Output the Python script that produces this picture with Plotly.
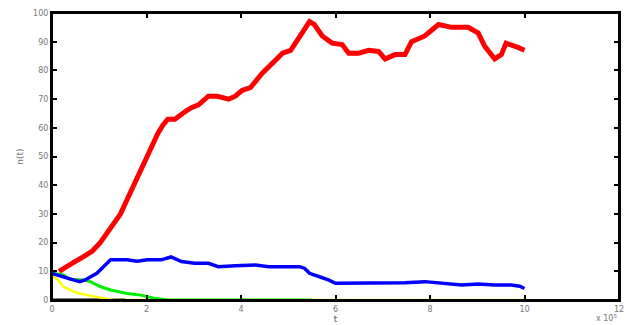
import plotly.graph_objects as go

# Data (t in units of 1e5)
red_t = [0.15, 0.24, 0.45, 0.66, 0.85, 1.02, 1.15, 1.31, 1.45, 1.59, 1.70, 1.81, 1.92, 2.02, 2.12, 2.24, 2.35, 2.45, 2.60, 2.74, 2.85, 2.95, 3.10, 3.31, 3.50, 3.74, 3.88, 4.02, 4.20, 4.45, 4.65, 4.88, 5.05, 5.24, 5.35, 5.45, 5.55, 5.72, 5.93, 6.14, 6.28, 6.49, 6.70, 6.91, 7.05, 7.26, 7.47, 7.61, 7.89, 8.05, 8.18, 8.46, 8.81, 9.02, 9.16, 9.37, 9.51, 9.61, 9.72, 9.86, 10.0]
red_v = [10, 11, 13, 15, 17, 20, 23, 27, 30, 35, 39, 43, 47, 50, 54, 58, 61, 63, 63, 65, 66, 67, 68, 71, 71, 70, 71, 73, 74, 79, 82, 86, 87, 92, 95, 97, 96, 92, 89.5, 89, 86, 86, 87, 86.6, 84, 85.5, 85.5, 90, 92, 94, 96, 95, 95, 93, 88.4, 84, 85.5, 89.5, 89, 88, 87]

blue_t = [0.0, 0.15, 0.31, 0.45, 0.59, 0.70, 0.81, 0.95, 1.09, 1.24, 1.40, 1.59, 1.80, 2.02, 2.31, 2.52, 2.74, 3.02, 3.31, 3.52, 3.88, 4.31, 4.59, 5.02, 5.24, 5.35, 5.45, 5.66, 5.85, 6.0, 6.21, 6.91, 7.47, 7.89, 8.32, 8.67, 9.02, 9.37, 9.72, 9.90, 10.0]
blue_v = [9.3, 8.5, 7.5, 7.0, 6.4, 7.0, 8.0, 9.3, 11.6, 14, 14, 14, 13.5, 14, 14, 15, 13.4, 12.8, 12.8, 11.6, 11.9, 12.2, 11.6, 11.6, 11.6, 11.0, 9.3, 8.1, 7.0, 5.8, 5.8, 5.8, 6.0, 6.4, 5.8, 5.2, 5.6, 5.2, 5.2, 4.8, 4.0]

green_t = [0.0, 0.24, 0.38, 0.66, 0.81, 1.02, 1.24, 1.59, 1.88, 2.16, 2.45, 3.3, 3.45, 5.5]
green_v = [9.3, 8.7, 7.2, 7.0, 6.4, 4.7, 3.5, 2.3, 1.7, 0.6, 0.0, 0.0, 0.0, 0.0]

yellow_t = [0.0, 0.13, 0.24, 0.45, 0.74, 1.02, 1.31, 10.0]
yellow_v = [8.4, 7.0, 4.7, 2.9, 1.7, 0.8, 0.0, 0.0]

black_t = [0.0, 1.55]
black_v = [0.0, 0.0]

x_ticks = [0, 2, 4, 6, 8, 10, 12]
y_ticks = [0, 10, 20, 30, 40, 50, 60, 70, 80, 90, 100]

fig = go.Figure()
fig.add_trace(go.Scatter(x=black_t, y=black_v, mode="lines", line=dict(color="black", width=3), showlegend=False))
fig.add_trace(go.Scatter(x=yellow_t, y=yellow_v, mode="lines", line=dict(color="#ffff00", width=2.5), showlegend=False))
fig.add_trace(go.Scatter(x=green_t, y=green_v, mode="lines", line=dict(color="#00ee00", width=3), showlegend=False))
fig.add_trace(go.Scatter(x=blue_t, y=blue_v, mode="lines", line=dict(color="#0000ff", width=3.5), showlegend=False))
fig.add_trace(go.Scatter(x=red_t, y=red_v, mode="lines", line=dict(color="#ff0000", width=5), showlegend=False))

axis_common = dict(
    showgrid=False, zeroline=False, showline=True, linecolor="black", linewidth=2,
    mirror="ticks", ticks="inside", ticklen=5, tickwidth=2, tickcolor="black",
    tickfont=dict(family="DejaVu Sans", size=8, color="#777777"),
    automargin=False,
)

fig.update_layout(
    width=634, height=325,
    margin=dict(l=44, r=23, t=5, b=33),
    paper_bgcolor="white", plot_bgcolor="white",
    xaxis=dict(range=[0, 12], tickvals=x_ticks, ticktext=[str(v) for v in x_ticks],
               title=dict(text="t", font=dict(family="DejaVu Sans", size=9, color="#555555"), standoff=0),
               **axis_common),
    yaxis=dict(range=[0, 100], tickvals=y_ticks, ticktext=[str(v) for v in y_ticks],
               title=dict(text="n(t)", font=dict(family="DejaVu Sans", size=9, color="#777777"), standoff=8),
               **axis_common),
    shapes=[dict(type="rect", xref="paper", yref="paper", x0=0, y0=0, x1=1, y1=1,
                 line=dict(color="black", width=2), layer="above")],
    annotations=[dict(text="x 10<sup>5</sup>", x=1.0, y=0, xref="paper", yref="paper",
                      xanchor="right", yanchor="top", yshift=-11, showarrow=False,
                      font=dict(family="DejaVu Sans", size=8, color="#777777"))],
)

fig.write_html("out.html")
